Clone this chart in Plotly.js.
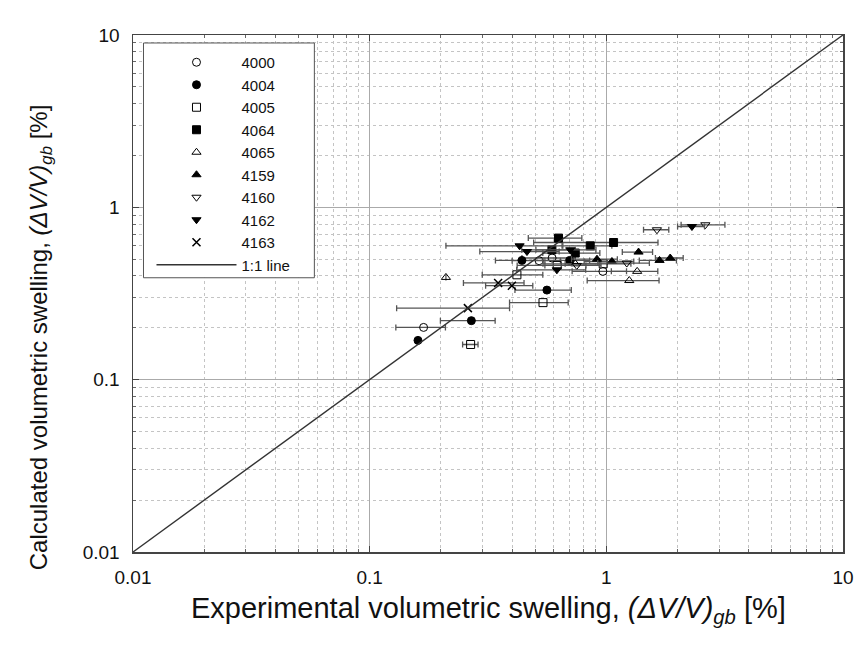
<!DOCTYPE html>
<html>
<head>
<meta charset="utf-8">
<script src="https://cdn.plot.ly/plotly-3.0.1.min.js"></script>
<style>html,body{margin:0;padding:0;background:#fff;}#chart{width:859px;height:649px;}</style>
</head>
<body>
<div id="chart"></div>
<script>
// ---- data ----
const seriesNames = ["4000", "4004", "4005", "4064", "4065", "4159", "4160", "4162", "4163"];

const x4000 = [0.169, 0.52, 0.59, 0.967];
const y4000 = [0.201, 0.49, 0.508, 0.425];
const e4000 = [0.04, 0.12, 0.15, 0.25];

const x4004 = [0.160, 0.269, 0.561, 0.44, 0.70];
const y4004 = [0.169, 0.220, 0.331, 0.492, 0.492];
const e4004 = [0, 0.07, 0.15, 0.10, 0.15];

const x4005 = [0.267, 0.54, 0.419, 0.62, 0.97];
const y4005 = [0.160, 0.280, 0.406, 0.46, 0.47];
const e4005 = [0.02, 0.15, 0.12, 0.20, 0.30];

const x4064 = [0.628, 0.855, 1.073, 0.589, 0.739];
const y4064 = [0.663, 0.598, 0.625, 0.567, 0.543];
const e4064 = [0.16, 0.20, 0.58, 0.15, 0.20];

const x4065 = [0.21, 1.25, 1.35, 0.74];
const y4065 = [0.392, 0.376, 0.425, 0.47];
const e4065 = [0, 0.42, 0.30, 0.20];

const x4159 = [1.056, 1.368, 0.913, 1.678, 1.862];
const y4159 = [0.485, 0.550, 0.500, 0.492, 0.508];
const e4159 = [0.25, 0.20, 0.20, 0.30, 0.25];

const x4160 = [1.636, 2.62, 0.75, 1.22];
const y4160 = [0.741, 0.792, 0.46, 0.475];
const e4160 = [0.20, 0.55, 0.20, 0.30];

const x4162 = [0.43, 0.462, 0.618, 0.704, 2.30];
const y4162 = [0.598, 0.554, 0.434, 0.567, 0.774];
const e4162 = [0.22, 0.17, 0.20, 0.20, 0.30];

const x4163 = [0.26, 0.349, 0.399];
const y4163 = [0.26, 0.364, 0.351];
const e4163 = [0.13, 0.10, 0.09];

const lineX = [0.01, 10];
const lineY = [0.01, 10];

const tickVals = [0.01, 0.1, 1, 10];
const tickText = ["0.01", "0.1", "1", "10"];

const xTitle = "Experimental volumetric swelling, <i>(ΔV/V)</i><sub><i>gb</i></sub> [%]";
const yTitle = "Calculated volumetric swelling, <i>(ΔV/V)</i><sub><i>gb</i></sub> [%]";

// ---- traces ----
const symbols = ["circle-open", "circle", "square-open", "square", "triangle-up-open", "triangle-up", "triangle-down-open", "triangle-down", "x-thin-open"];
const xs = [x4000, x4004, x4005, x4064, x4065, x4159, x4160, x4162, x4163];
const ys = [y4000, y4004, y4005, y4064, y4065, y4159, y4160, y4162, y4163];
const es = [e4000, e4004, e4005, e4064, e4065, e4159, e4160, e4162, e4163];

const traces = seriesNames.map((n, i) => ({
  type: "scatter", mode: "markers", name: n,
  x: xs[i], y: ys[i],
  error_x: {type: "data", array: es[i], visible: true, color: "#555", thickness: 1.3, width: 3},
  marker: {symbol: symbols[i], size: 8, color: "#000",
           line: {color: "#000", width: symbols[i].startsWith("x") ? 1.5 : 1}}
}));
traces.push({type: "scatter", mode: "lines", name: "1:1 line", x: lineX, y: lineY,
  line: {color: "#333", width: 1.4}});

const FONT = "Liberation Sans, Arial, sans-serif";

const axisCommon = {
  type: "log", range: [-2, 1], tickvals: tickVals, ticktext: tickText,
  showline: true, mirror: "ticks", linecolor: "#444", linewidth: 1.5,
  ticks: "inside", ticklen: 6, tickcolor: "#444", ticklabelstandoff: 8,
  showgrid: true, gridcolor: "#aaa", gridwidth: 1,
  zeroline: false,
  tickfont: {family: FONT, size: 19, color: "#111"},
  minor: {dtick: "D1", showgrid: true, gridcolor: "#c4c4c4", griddash: "dot", gridwidth: 1,
          ticks: "inside", ticklen: 3, tickcolor: "#666"}
};

const layout = {
  width: 859, height: 649,
  margin: {l: 133, r: 16, t: 35, b: 97},
  paper_bgcolor: "#fff", plot_bgcolor: "#fff",
  font: {family: FONT, color: "#111"},
  showlegend: true,
  legend: {x: (151 - 132.5) / 710.5, y: (552.5 - 46) / 517.5, xanchor: "left", yanchor: "top",
           bgcolor: "rgba(0,0,0,0)", borderwidth: 0,
           font: {size: 15, color: "#111"}, itemwidth: 80},
  shapes: [{type: "rect", xref: "paper", yref: "paper", layer: "above",
            x0: (143 - 132.5) / 710.5, x1: (314 - 132.5) / 710.5,
            y0: (552.5 - 278) / 517.5, y1: (552.5 - 43) / 517.5,
            fillcolor: "#fff", line: {color: "#555", width: 1}}],
  annotations: [
    {text: xTitle, xref: "paper", yref: "paper", x: 0.5, y: (552.5 - 611) / 517.5,
     xanchor: "center", yanchor: "middle", showarrow: false,
     font: {family: FONT, size: 29, color: "#111"}},
    {text: yTitle, xref: "paper", yref: "paper", x: (40 - 132.5) / 710.5, y: (552.5 - 338) / 517.5,
     xanchor: "center", yanchor: "middle", showarrow: false, textangle: -90,
     font: {family: FONT, size: 24, color: "#111"}}
  ],
  xaxis: Object.assign({}, axisCommon),
  yaxis: Object.assign({}, axisCommon)
};

Plotly.newPlot("chart", traces, layout, {displayModeBar: false, staticPlot: true});
</script>
</body>
</html>
